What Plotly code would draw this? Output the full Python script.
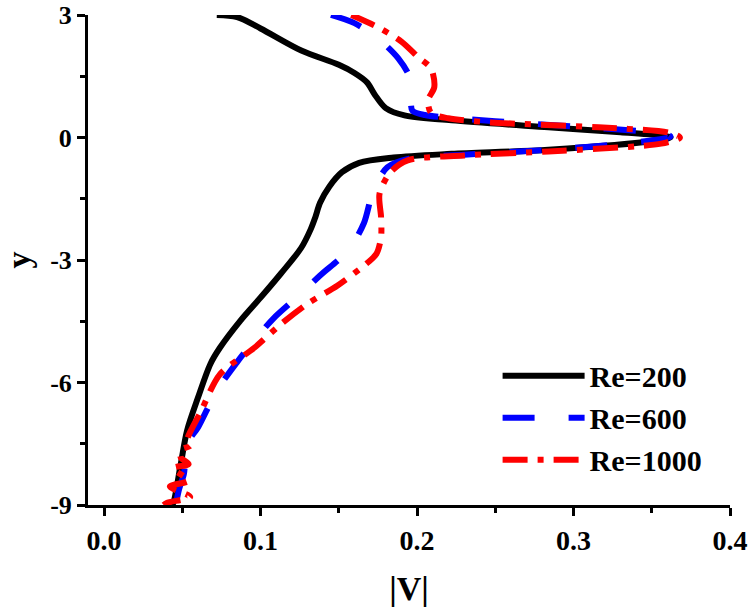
import plotly.graph_objects as go

# Re=200 (black, solid)
v200 = [0.072, 0.085, 0.100, 0.126, 0.150, 0.160, 0.168, 0.173, 0.180, 0.192, 0.222, 0.284, 0.330, 0.358, 0.362,
        0.352, 0.284, 0.222, 0.185, 0.163, 0.152, 0.144, 0.138, 0.135, 0.132, 0.126, 0.113, 0.100, 0.087, 0.074,
        0.068, 0.060, 0.053, 0.049, 0.044, 0.043]
y200 = [3.0, 2.95, 2.67, 2.13, 1.78, 1.58, 1.35, 1.05, 0.72, 0.54, 0.42, 0.25, 0.13, 0.04, 0.0,
        -0.08, -0.30, -0.40, -0.49, -0.62, -0.85, -1.20, -1.60, -1.95, -2.25, -2.70, -3.33, -3.92, -4.49, -5.15,
        -5.54, -6.37, -7.18, -7.99, -8.97, -9.0]

# Re=600 (blue, dashed)
v600 = [0.145, 0.160, 0.175, 0.188, 0.195, 0.196, 0.197, 0.205, 0.250, 0.300, 0.345, 0.360, 0.362,
        0.340, 0.284, 0.230, 0.195, 0.181, 0.172, 0.166, 0.156, 0.138, 0.126, 0.108, 0.096, 0.085,
        0.072, 0.060, 0.053, 0.051, 0.048, 0.046]
y600 = [3.0, 2.8, 2.43, 1.94, 1.5, 1.0, 0.66, 0.55, 0.40, 0.27, 0.15, 0.08, 0.02,
        -0.12, -0.30, -0.42, -0.52, -0.73, -1.3, -2.1, -2.77, -3.38, -3.82, -4.44, -4.97, -5.5,
        -6.2, -7.1, -7.5, -8.24, -8.6, -8.95]

# Re=1000 (red, dash-dot)
v1000 = [0.158, 0.175, 0.190, 0.201, 0.209, 0.211, 0.207, 0.209, 0.220, 0.247, 0.316, 0.361, 0.368,
         0.356, 0.284, 0.230, 0.194, 0.183, 0.176, 0.177, 0.177, 0.174, 0.166, 0.149, 0.130, 0.113,
         0.096, 0.074, 0.062, 0.053, 0.055, 0.049, 0.049, 0.054, 0.044, 0.054, 0.042, 0.055, 0.040, 0.038]
y1000 = [3.0, 2.7, 2.35, 1.96, 1.69, 1.23, 0.91, 0.60, 0.47, 0.37, 0.25, 0.12, 0.0,
         -0.15, -0.34, -0.44, -0.56, -0.85, -1.38, -1.95, -2.44, -2.85, -3.14, -3.63, -4.07, -4.57,
         -5.15, -5.8, -6.7, -7.43, -7.55, -7.65, -7.84, -8.0, -8.1, -8.4, -8.55, -8.8, -8.95, -9.0]

x_ticks = [0.0, 0.1, 0.2, 0.3, 0.4]
y_ticks = [3, 0, -3, -6, -9]

FONT = "Liberation Serif"

fig = go.Figure()
fig.add_trace(go.Scatter(x=v200, y=y200, mode="lines", name="Re=200",
                         line=dict(color="black", width=6, shape="spline", smoothing=0.9)))
fig.add_trace(go.Scatter(x=v600, y=y600, mode="lines", name="Re=600",
                         line=dict(color="#0000ff", width=6, dash="32px,34px", shape="spline", smoothing=0.8)))
fig.add_trace(go.Scatter(x=v1000, y=y1000, mode="lines", name="Re=1000",
                         line=dict(color="#ff0000", width=6, dash="25px,10px,6px,10px", shape="spline", smoothing=0.8)))

axis_common = dict(showline=True, linecolor="black", linewidth=3, ticks="outside", ticklen=8,
                   tickwidth=3, tickcolor="black", showgrid=False, zeroline=False, mirror=False,
                   tickfont=dict(family=FONT, size=28, color="black", weight="bold"))

fig.update_xaxes(range=[-0.0103, 0.4], tickvals=x_ticks, ticktext=[f"{t:.1f}" for t in x_ticks],
                 minor=dict(dtick=0.05, tick0=0, ticks="outside", ticklen=5, tickwidth=3, tickcolor="black"),
                 title=dict(text="|V|", font=dict(family=FONT, size=34, color="black", weight="bold"), standoff=22),
                 **axis_common)
fig.update_yaxes(range=[-9, 3], tickvals=y_ticks, ticktext=[str(t) for t in y_ticks],
                 minor=dict(dtick=1.5, tick0=0, ticks="outside", ticklen=5, tickwidth=3, tickcolor="black"),
                 title=dict(text="y", font=dict(family=FONT, size=34, color="black", weight="bold"), standoff=14),
                 **axis_common)
fig.update_yaxes(tickfont=dict(size=26))

fig.update_layout(
    width=752, height=609,
    margin=dict(l=88, r=22, t=15, b=104, autoexpand=False),
    plot_bgcolor="white", paper_bgcolor="white",
    legend=dict(x=0.638, y=0.317, xanchor="left", yanchor="top", itemwidth=82,
                font=dict(family=FONT, size=30, color="black", weight="bold"),
                bgcolor="rgba(0,0,0,0)", tracegroupgap=1),
)

fig.write_html("out.html", config={"displayModeBar": False},
               post_script="document.body.style.margin='0';document.body.style.padding='0';")
